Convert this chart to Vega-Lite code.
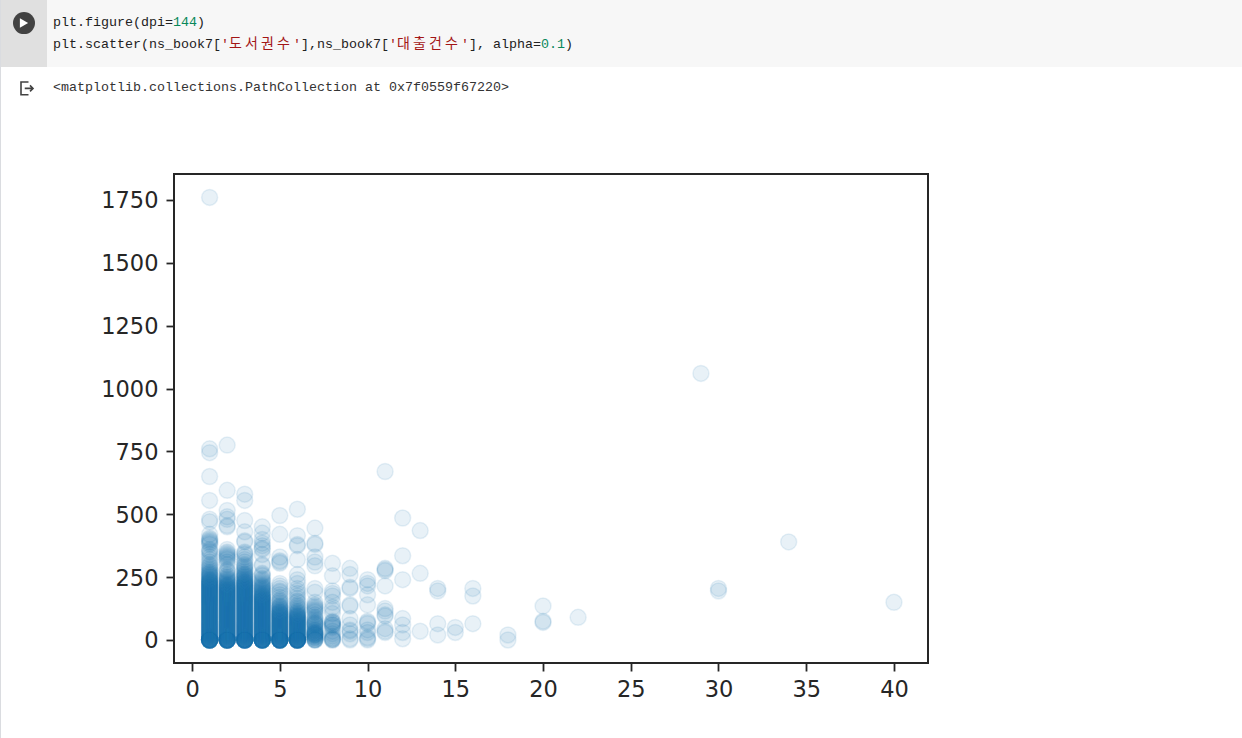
{
"$schema":"https://vega.github.io/schema/vega-lite/v6.json",
"autosize":{"type":"none"},
"padding":{"left":174,"top":174,"right":314,"bottom":75},
"width":754,
"height":489,
"background":"white",
"config":{"view":{"stroke":"#262626","strokeWidth":2},"axis":{"grid":false}},
"datasets":{
"regions":[
{"region":"cell","col":-6.625,"col2":148.6,"line":0,"line2":3.05},
{"region":"gutter","col":-6.625,"col2":-0.75,"line":0,"line2":3.05},
{"region":"edge","col":-6.625,"col2":-6.5,"line":0,"line2":33.6}
],
"tokens":[
{"line":1,"col":0,"kind":"code","token":"plt.figure(dpi="},
{"line":1,"col":15,"kind":"number","token":"144"},
{"line":1,"col":18,"kind":"code","token":")"},
{"line":2,"col":0,"kind":"code","token":"plt.scatter(ns_book7["},
{"line":2,"col":21,"kind":"string","token":"'"},
{"line":2,"col":30,"kind":"string","token":"'"},
{"line":2,"col":31,"kind":"code","token":"],ns_book7["},
{"line":2,"col":42,"kind":"string","token":"'"},
{"line":2,"col":51,"kind":"string","token":"'"},
{"line":2,"col":52,"kind":"code","token":"], alpha="},
{"line":2,"col":61,"kind":"number","token":"0.1"},
{"line":2,"col":64,"kind":"code","token":")"},
{"line":3.95,"col":0,"kind":"output","token":"<matplotlib.collections.PathCollection at 0x7f0559f67220>"}
],
"hangul":[
{"line":2,"col":22,"token":"도"},{"line":2,"col":24,"token":"서"},{"line":2,"col":26,"token":"권"},{"line":2,"col":28,"token":"수"},
{"line":2,"col":43,"token":"대"},{"line":2,"col":45,"token":"출"},{"line":2,"col":47,"token":"건"},{"line":2,"col":49,"token":"수"}
],
"icons":[
{"icon":"run","col":-3.625,"line":1.05},
{"icon":"output","col":-3.25,"line":4}
],
"points":[
{"x":1,"y":0},{"x":1,"y":0},{"x":1,"y":0},{"x":1,"y":0},{"x":1,"y":0},{"x":1,"y":0},{"x":1,"y":0},{"x":1,"y":0},{"x":1,"y":0},{"x":1,"y":0},{"x":1,"y":0},{"x":1,"y":0},{"x":1,"y":0},{"x":1,"y":0},{"x":1,"y":0},{"x":1,"y":0},{"x":1,"y":1},{"x":1,"y":1},{"x":1,"y":1},{"x":1,"y":1},{"x":1,"y":2},{"x":1,"y":4},{"x":1,"y":6},{"x":1,"y":8},{"x":1,"y":10},{"x":1,"y":12},{"x":1,"y":14},{"x":1,"y":16},{"x":1,"y":18},{"x":1,"y":20},{"x":1,"y":22},{"x":1,"y":24},{"x":1,"y":26},{"x":1,"y":28},{"x":1,"y":30},{"x":1,"y":32},{"x":1,"y":34},{"x":1,"y":36},{"x":1,"y":38},{"x":1,"y":40},{"x":1,"y":42},{"x":1,"y":44},{"x":1,"y":46},{"x":1,"y":48},{"x":1,"y":50},{"x":1,"y":52},{"x":1,"y":54},{"x":1,"y":56},{"x":1,"y":58},{"x":1,"y":60},{"x":1,"y":62},{"x":1,"y":64},{"x":1,"y":66},{"x":1,"y":68},{"x":1,"y":70},{"x":1,"y":72},{"x":1,"y":74},{"x":1,"y":76},{"x":1,"y":78},{"x":1,"y":80},{"x":1,"y":82},{"x":1,"y":84},{"x":1,"y":86},{"x":1,"y":88},{"x":1,"y":90},{"x":1,"y":92},{"x":1,"y":94},{"x":1,"y":96},{"x":1,"y":98},{"x":1,"y":100},{"x":1,"y":102},{"x":1,"y":104},{"x":1,"y":106},{"x":1,"y":108},{"x":1,"y":110},{"x":1,"y":112},{"x":1,"y":114},{"x":1,"y":116},{"x":1,"y":118},{"x":1,"y":120},{"x":1,"y":122},{"x":1,"y":124},{"x":1,"y":126},{"x":1,"y":128},{"x":1,"y":130},{"x":1,"y":132},{"x":1,"y":134},{"x":1,"y":136},{"x":1,"y":138},{"x":1,"y":140},{"x":1,"y":142},{"x":1,"y":144},{"x":1,"y":146},{"x":1,"y":148},{"x":1,"y":150},{"x":1,"y":152},{"x":1,"y":154},{"x":1,"y":156},{"x":1,"y":158},{"x":1,"y":160},{"x":1,"y":162},{"x":1,"y":164},{"x":1,"y":166},{"x":1,"y":168},{"x":1,"y":170},{"x":1,"y":172},{"x":1,"y":174},{"x":1,"y":176},{"x":1,"y":178},{"x":1,"y":180},{"x":1,"y":182},{"x":1,"y":184},{"x":1,"y":186},{"x":1,"y":188},{"x":1,"y":190},{"x":1,"y":192},{"x":1,"y":194},{"x":1,"y":196},{"x":1,"y":198},{"x":1,"y":200},{"x":1,"y":202},{"x":1,"y":204},{"x":1,"y":206},{"x":1,"y":208},{"x":1,"y":210},{"x":1,"y":212},{"x":1,"y":214},{"x":1,"y":216},{"x":1,"y":218},{"x":1,"y":220},{"x":1,"y":222},{"x":1,"y":224},{"x":1,"y":226},{"x":1,"y":228},{"x":1,"y":230},{"x":1,"y":232},{"x":1,"y":234},{"x":1,"y":236},{"x":1,"y":238},{"x":1,"y":240},{"x":1,"y":243},{"x":1,"y":246},{"x":1,"y":249},{"x":1,"y":252},{"x":1,"y":255},{"x":1,"y":258},{"x":1,"y":261},{"x":1,"y":264},{"x":1,"y":267},{"x":1,"y":270},{"x":1,"y":275},{"x":1,"y":280},{"x":1,"y":285},{"x":1,"y":290},{"x":1,"y":295},{"x":1,"y":300},{"x":1,"y":310},{"x":1,"y":320},{"x":1,"y":330},{"x":1,"y":340},{"x":1,"y":350},{"x":1,"y":355},{"x":1,"y":360},{"x":1,"y":380},{"x":1,"y":385},{"x":1,"y":390},{"x":1,"y":395},{"x":1,"y":400},{"x":1,"y":405},{"x":1,"y":420},{"x":1,"y":470},{"x":1,"y":480},{"x":1,"y":555},{"x":1,"y":650},{"x":1,"y":745},{"x":1,"y":760},{"x":1,"y":1760},
{"x":2,"y":0},{"x":2,"y":0},{"x":2,"y":0},{"x":2,"y":0},{"x":2,"y":0},{"x":2,"y":0},{"x":2,"y":0},{"x":2,"y":0},{"x":2,"y":0},{"x":2,"y":0},{"x":2,"y":0},{"x":2,"y":0},{"x":2,"y":0},{"x":2,"y":0},{"x":2,"y":0},{"x":2,"y":0},{"x":2,"y":1},{"x":2,"y":1},{"x":2,"y":1},{"x":2,"y":1},{"x":2,"y":2},{"x":2,"y":4},{"x":2,"y":6},{"x":2,"y":8},{"x":2,"y":10},{"x":2,"y":12},{"x":2,"y":14},{"x":2,"y":16},{"x":2,"y":18},{"x":2,"y":20},{"x":2,"y":22},{"x":2,"y":24},{"x":2,"y":26},{"x":2,"y":28},{"x":2,"y":30},{"x":2,"y":32},{"x":2,"y":34},{"x":2,"y":36},{"x":2,"y":38},{"x":2,"y":40},{"x":2,"y":42},{"x":2,"y":44},{"x":2,"y":46},{"x":2,"y":48},{"x":2,"y":50},{"x":2,"y":52},{"x":2,"y":54},{"x":2,"y":56},{"x":2,"y":58},{"x":2,"y":60},{"x":2,"y":62},{"x":2,"y":64},{"x":2,"y":66},{"x":2,"y":68},{"x":2,"y":70},{"x":2,"y":72},{"x":2,"y":74},{"x":2,"y":76},{"x":2,"y":78},{"x":2,"y":80},{"x":2,"y":82},{"x":2,"y":84},{"x":2,"y":86},{"x":2,"y":88},{"x":2,"y":90},{"x":2,"y":92},{"x":2,"y":94},{"x":2,"y":96},{"x":2,"y":98},{"x":2,"y":100},{"x":2,"y":102},{"x":2,"y":104},{"x":2,"y":106},{"x":2,"y":108},{"x":2,"y":110},{"x":2,"y":112},{"x":2,"y":114},{"x":2,"y":116},{"x":2,"y":118},{"x":2,"y":120},{"x":2,"y":122},{"x":2,"y":124},{"x":2,"y":126},{"x":2,"y":128},{"x":2,"y":130},{"x":2,"y":132},{"x":2,"y":134},{"x":2,"y":136},{"x":2,"y":138},{"x":2,"y":140},{"x":2,"y":142},{"x":2,"y":144},{"x":2,"y":146},{"x":2,"y":148},{"x":2,"y":150},{"x":2,"y":152},{"x":2,"y":154},{"x":2,"y":156},{"x":2,"y":158},{"x":2,"y":160},{"x":2,"y":162},{"x":2,"y":164},{"x":2,"y":166},{"x":2,"y":168},{"x":2,"y":170},{"x":2,"y":172},{"x":2,"y":174},{"x":2,"y":176},{"x":2,"y":178},{"x":2,"y":180},{"x":2,"y":182},{"x":2,"y":184},{"x":2,"y":186},{"x":2,"y":188},{"x":2,"y":190},{"x":2,"y":192},{"x":2,"y":194},{"x":2,"y":196},{"x":2,"y":198},{"x":2,"y":200},{"x":2,"y":202},{"x":2,"y":204},{"x":2,"y":206},{"x":2,"y":208},{"x":2,"y":210},{"x":2,"y":212},{"x":2,"y":214},{"x":2,"y":216},{"x":2,"y":218},{"x":2,"y":220},{"x":2,"y":223},{"x":2,"y":226},{"x":2,"y":229},{"x":2,"y":232},{"x":2,"y":235},{"x":2,"y":238},{"x":2,"y":241},{"x":2,"y":244},{"x":2,"y":247},{"x":2,"y":250},{"x":2,"y":255},{"x":2,"y":260},{"x":2,"y":270},{"x":2,"y":275},{"x":2,"y":280},{"x":2,"y":300},{"x":2,"y":310},{"x":2,"y":320},{"x":2,"y":325},{"x":2,"y":330},{"x":2,"y":335},{"x":2,"y":340},{"x":2,"y":345},{"x":2,"y":350},{"x":2,"y":360},{"x":2,"y":450},{"x":2,"y":455},{"x":2,"y":480},{"x":2,"y":490},{"x":2,"y":515},{"x":2,"y":595},{"x":2,"y":775},
{"x":3,"y":0},{"x":3,"y":0},{"x":3,"y":0},{"x":3,"y":0},{"x":3,"y":0},{"x":3,"y":0},{"x":3,"y":0},{"x":3,"y":0},{"x":3,"y":0},{"x":3,"y":0},{"x":3,"y":0},{"x":3,"y":0},{"x":3,"y":0},{"x":3,"y":0},{"x":3,"y":0},{"x":3,"y":0},{"x":3,"y":1},{"x":3,"y":1},{"x":3,"y":1},{"x":3,"y":1},{"x":3,"y":2},{"x":3,"y":4},{"x":3,"y":6},{"x":3,"y":8},{"x":3,"y":10},{"x":3,"y":12},{"x":3,"y":14},{"x":3,"y":16},{"x":3,"y":18},{"x":3,"y":20},{"x":3,"y":22},{"x":3,"y":24},{"x":3,"y":26},{"x":3,"y":28},{"x":3,"y":30},{"x":3,"y":32},{"x":3,"y":34},{"x":3,"y":36},{"x":3,"y":38},{"x":3,"y":40},{"x":3,"y":42},{"x":3,"y":44},{"x":3,"y":46},{"x":3,"y":48},{"x":3,"y":50},{"x":3,"y":52},{"x":3,"y":54},{"x":3,"y":56},{"x":3,"y":58},{"x":3,"y":60},{"x":3,"y":62},{"x":3,"y":64},{"x":3,"y":66},{"x":3,"y":68},{"x":3,"y":70},{"x":3,"y":72},{"x":3,"y":74},{"x":3,"y":76},{"x":3,"y":78},{"x":3,"y":80},{"x":3,"y":82},{"x":3,"y":84},{"x":3,"y":86},{"x":3,"y":88},{"x":3,"y":90},{"x":3,"y":92},{"x":3,"y":94},{"x":3,"y":96},{"x":3,"y":98},{"x":3,"y":100},{"x":3,"y":102},{"x":3,"y":104},{"x":3,"y":106},{"x":3,"y":108},{"x":3,"y":110},{"x":3,"y":112},{"x":3,"y":114},{"x":3,"y":116},{"x":3,"y":118},{"x":3,"y":120},{"x":3,"y":122},{"x":3,"y":124},{"x":3,"y":126},{"x":3,"y":128},{"x":3,"y":130},{"x":3,"y":132},{"x":3,"y":134},{"x":3,"y":136},{"x":3,"y":138},{"x":3,"y":140},{"x":3,"y":142},{"x":3,"y":144},{"x":3,"y":146},{"x":3,"y":148},{"x":3,"y":150},{"x":3,"y":152},{"x":3,"y":154},{"x":3,"y":156},{"x":3,"y":158},{"x":3,"y":160},{"x":3,"y":162},{"x":3,"y":164},{"x":3,"y":166},{"x":3,"y":168},{"x":3,"y":170},{"x":3,"y":172},{"x":3,"y":174},{"x":3,"y":176},{"x":3,"y":178},{"x":3,"y":180},{"x":3,"y":182},{"x":3,"y":184},{"x":3,"y":186},{"x":3,"y":188},{"x":3,"y":190},{"x":3,"y":192},{"x":3,"y":194},{"x":3,"y":196},{"x":3,"y":198},{"x":3,"y":200},{"x":3,"y":202},{"x":3,"y":204},{"x":3,"y":206},{"x":3,"y":208},{"x":3,"y":210},{"x":3,"y":212},{"x":3,"y":214},{"x":3,"y":216},{"x":3,"y":218},{"x":3,"y":220},{"x":3,"y":222},{"x":3,"y":224},{"x":3,"y":226},{"x":3,"y":228},{"x":3,"y":230},{"x":3,"y":232},{"x":3,"y":234},{"x":3,"y":237},{"x":3,"y":240},{"x":3,"y":243},{"x":3,"y":246},{"x":3,"y":249},{"x":3,"y":252},{"x":3,"y":255},{"x":3,"y":258},{"x":3,"y":261},{"x":3,"y":264},{"x":3,"y":270},{"x":3,"y":275},{"x":3,"y":280},{"x":3,"y":285},{"x":3,"y":290},{"x":3,"y":295},{"x":3,"y":300},{"x":3,"y":310},{"x":3,"y":320},{"x":3,"y":330},{"x":3,"y":340},{"x":3,"y":345},{"x":3,"y":350},{"x":3,"y":390},{"x":3,"y":395},{"x":3,"y":430},{"x":3,"y":475},{"x":3,"y":555},{"x":3,"y":580},
{"x":4,"y":0},{"x":4,"y":0},{"x":4,"y":0},{"x":4,"y":0},{"x":4,"y":0},{"x":4,"y":0},{"x":4,"y":0},{"x":4,"y":0},{"x":4,"y":0},{"x":4,"y":0},{"x":4,"y":0},{"x":4,"y":0},{"x":4,"y":0},{"x":4,"y":0},{"x":4,"y":0},{"x":4,"y":0},{"x":4,"y":1},{"x":4,"y":1},{"x":4,"y":1},{"x":4,"y":1},{"x":4,"y":2},{"x":4,"y":4},{"x":4,"y":6},{"x":4,"y":8},{"x":4,"y":10},{"x":4,"y":12},{"x":4,"y":14},{"x":4,"y":16},{"x":4,"y":18},{"x":4,"y":20},{"x":4,"y":22},{"x":4,"y":24},{"x":4,"y":26},{"x":4,"y":28},{"x":4,"y":30},{"x":4,"y":32},{"x":4,"y":34},{"x":4,"y":36},{"x":4,"y":38},{"x":4,"y":40},{"x":4,"y":42},{"x":4,"y":44},{"x":4,"y":46},{"x":4,"y":48},{"x":4,"y":50},{"x":4,"y":52},{"x":4,"y":54},{"x":4,"y":56},{"x":4,"y":58},{"x":4,"y":60},{"x":4,"y":62},{"x":4,"y":64},{"x":4,"y":66},{"x":4,"y":68},{"x":4,"y":70},{"x":4,"y":72},{"x":4,"y":74},{"x":4,"y":76},{"x":4,"y":78},{"x":4,"y":80},{"x":4,"y":82},{"x":4,"y":84},{"x":4,"y":86},{"x":4,"y":88},{"x":4,"y":90},{"x":4,"y":92},{"x":4,"y":94},{"x":4,"y":96},{"x":4,"y":98},{"x":4,"y":100},{"x":4,"y":102},{"x":4,"y":104},{"x":4,"y":106},{"x":4,"y":108},{"x":4,"y":110},{"x":4,"y":112},{"x":4,"y":114},{"x":4,"y":116},{"x":4,"y":118},{"x":4,"y":120},{"x":4,"y":122},{"x":4,"y":124},{"x":4,"y":126},{"x":4,"y":128},{"x":4,"y":130},{"x":4,"y":132},{"x":4,"y":134},{"x":4,"y":136},{"x":4,"y":138},{"x":4,"y":140},{"x":4,"y":142},{"x":4,"y":144},{"x":4,"y":146},{"x":4,"y":148},{"x":4,"y":150},{"x":4,"y":152},{"x":4,"y":154},{"x":4,"y":156},{"x":4,"y":158},{"x":4,"y":160},{"x":4,"y":162},{"x":4,"y":164},{"x":4,"y":166},{"x":4,"y":168},{"x":4,"y":170},{"x":4,"y":172},{"x":4,"y":174},{"x":4,"y":176},{"x":4,"y":178},{"x":4,"y":180},{"x":4,"y":183},{"x":4,"y":186},{"x":4,"y":189},{"x":4,"y":192},{"x":4,"y":195},{"x":4,"y":198},{"x":4,"y":201},{"x":4,"y":204},{"x":4,"y":207},{"x":4,"y":210},{"x":4,"y":213},{"x":4,"y":216},{"x":4,"y":220},{"x":4,"y":225},{"x":4,"y":230},{"x":4,"y":235},{"x":4,"y":240},{"x":4,"y":245},{"x":4,"y":255},{"x":4,"y":260},{"x":4,"y":265},{"x":4,"y":295},{"x":4,"y":300},{"x":4,"y":340},{"x":4,"y":360},{"x":4,"y":365},{"x":4,"y":375},{"x":4,"y":385},{"x":4,"y":400},{"x":4,"y":425},{"x":4,"y":450},
{"x":5,"y":0},{"x":5,"y":0},{"x":5,"y":0},{"x":5,"y":0},{"x":5,"y":0},{"x":5,"y":0},{"x":5,"y":0},{"x":5,"y":0},{"x":5,"y":0},{"x":5,"y":0},{"x":5,"y":0},{"x":5,"y":0},{"x":5,"y":0},{"x":5,"y":0},{"x":5,"y":0},{"x":5,"y":0},{"x":5,"y":1},{"x":5,"y":1},{"x":5,"y":1},{"x":5,"y":1},{"x":5,"y":2},{"x":5,"y":4},{"x":5,"y":6},{"x":5,"y":8},{"x":5,"y":10},{"x":5,"y":12},{"x":5,"y":14},{"x":5,"y":16},{"x":5,"y":18},{"x":5,"y":20},{"x":5,"y":22},{"x":5,"y":24},{"x":5,"y":26},{"x":5,"y":28},{"x":5,"y":30},{"x":5,"y":32},{"x":5,"y":34},{"x":5,"y":36},{"x":5,"y":38},{"x":5,"y":40},{"x":5,"y":42},{"x":5,"y":44},{"x":5,"y":46},{"x":5,"y":48},{"x":5,"y":50},{"x":5,"y":52},{"x":5,"y":54},{"x":5,"y":56},{"x":5,"y":58},{"x":5,"y":60},{"x":5,"y":62},{"x":5,"y":64},{"x":5,"y":66},{"x":5,"y":68},{"x":5,"y":70},{"x":5,"y":72},{"x":5,"y":74},{"x":5,"y":76},{"x":5,"y":78},{"x":5,"y":80},{"x":5,"y":82},{"x":5,"y":84},{"x":5,"y":86},{"x":5,"y":88},{"x":5,"y":90},{"x":5,"y":92},{"x":5,"y":94},{"x":5,"y":96},{"x":5,"y":98},{"x":5,"y":100},{"x":5,"y":102},{"x":5,"y":104},{"x":5,"y":106},{"x":5,"y":108},{"x":5,"y":110},{"x":5,"y":112},{"x":5,"y":114},{"x":5,"y":117},{"x":5,"y":120},{"x":5,"y":123},{"x":5,"y":126},{"x":5,"y":129},{"x":5,"y":132},{"x":5,"y":135},{"x":5,"y":138},{"x":5,"y":145},{"x":5,"y":150},{"x":5,"y":155},{"x":5,"y":160},{"x":5,"y":170},{"x":5,"y":180},{"x":5,"y":190},{"x":5,"y":195},{"x":5,"y":205},{"x":5,"y":215},{"x":5,"y":225},{"x":5,"y":305},{"x":5,"y":310},{"x":5,"y":315},{"x":5,"y":330},{"x":5,"y":420},{"x":5,"y":495},
{"x":6,"y":0},{"x":6,"y":0},{"x":6,"y":0},{"x":6,"y":0},{"x":6,"y":0},{"x":6,"y":0},{"x":6,"y":0},{"x":6,"y":0},{"x":6,"y":0},{"x":6,"y":0},{"x":6,"y":0},{"x":6,"y":0},{"x":6,"y":0},{"x":6,"y":0},{"x":6,"y":0},{"x":6,"y":0},{"x":6,"y":1},{"x":6,"y":1},{"x":6,"y":1},{"x":6,"y":1},{"x":6,"y":2},{"x":6,"y":4},{"x":6,"y":6},{"x":6,"y":8},{"x":6,"y":10},{"x":6,"y":12},{"x":6,"y":14},{"x":6,"y":16},{"x":6,"y":18},{"x":6,"y":20},{"x":6,"y":22},{"x":6,"y":24},{"x":6,"y":26},{"x":6,"y":28},{"x":6,"y":30},{"x":6,"y":32},{"x":6,"y":34},{"x":6,"y":36},{"x":6,"y":38},{"x":6,"y":40},{"x":6,"y":42},{"x":6,"y":44},{"x":6,"y":46},{"x":6,"y":48},{"x":6,"y":50},{"x":6,"y":52},{"x":6,"y":54},{"x":6,"y":56},{"x":6,"y":58},{"x":6,"y":60},{"x":6,"y":62},{"x":6,"y":64},{"x":6,"y":66},{"x":6,"y":68},{"x":6,"y":70},{"x":6,"y":72},{"x":6,"y":74},{"x":6,"y":76},{"x":6,"y":78},{"x":6,"y":80},{"x":6,"y":82},{"x":6,"y":84},{"x":6,"y":86},{"x":6,"y":88},{"x":6,"y":90},{"x":6,"y":92},{"x":6,"y":94},{"x":6,"y":96},{"x":6,"y":98},{"x":6,"y":100},{"x":6,"y":103},{"x":6,"y":106},{"x":6,"y":109},{"x":6,"y":112},{"x":6,"y":115},{"x":6,"y":120},{"x":6,"y":125},{"x":6,"y":130},{"x":6,"y":135},{"x":6,"y":140},{"x":6,"y":150},{"x":6,"y":155},{"x":6,"y":165},{"x":6,"y":175},{"x":6,"y":185},{"x":6,"y":195},{"x":6,"y":205},{"x":6,"y":225},{"x":6,"y":240},{"x":6,"y":260},{"x":6,"y":320},{"x":6,"y":375},{"x":6,"y":380},{"x":6,"y":415},{"x":6,"y":520},
{"x":7,"y":0},{"x":7,"y":0},{"x":7,"y":0},{"x":7,"y":2},{"x":7,"y":5},{"x":7,"y":8},{"x":7,"y":10},{"x":7,"y":12},{"x":7,"y":15},{"x":7,"y":18},{"x":7,"y":20},{"x":7,"y":20},{"x":7,"y":22},{"x":7,"y":25},{"x":7,"y":25},{"x":7,"y":28},{"x":7,"y":30},{"x":7,"y":30},{"x":7,"y":35},{"x":7,"y":38},{"x":7,"y":40},{"x":7,"y":45},{"x":7,"y":50},{"x":7,"y":55},{"x":7,"y":60},{"x":7,"y":62},{"x":7,"y":65},{"x":7,"y":68},{"x":7,"y":70},{"x":7,"y":75},{"x":7,"y":80},{"x":7,"y":85},{"x":7,"y":90},{"x":7,"y":100},{"x":7,"y":110},{"x":7,"y":115},{"x":7,"y":120},{"x":7,"y":125},{"x":7,"y":130},{"x":7,"y":135},{"x":7,"y":140},{"x":7,"y":150},{"x":7,"y":190},{"x":7,"y":205},{"x":7,"y":295},{"x":7,"y":310},{"x":7,"y":330},{"x":7,"y":380},{"x":7,"y":385},{"x":7,"y":445},
{"x":8,"y":0},{"x":8,"y":0},{"x":8,"y":3},{"x":8,"y":5},{"x":8,"y":8},{"x":8,"y":15},{"x":8,"y":25},{"x":8,"y":35},{"x":8,"y":50},{"x":8,"y":55},{"x":8,"y":60},{"x":8,"y":60},{"x":8,"y":65},{"x":8,"y":70},{"x":8,"y":70},{"x":8,"y":75},{"x":8,"y":105},{"x":8,"y":120},{"x":8,"y":130},{"x":8,"y":150},{"x":8,"y":175},{"x":8,"y":185},{"x":8,"y":195},{"x":8,"y":255},{"x":8,"y":305},
{"x":9,"y":0},{"x":9,"y":5},{"x":9,"y":25},{"x":9,"y":35},{"x":9,"y":40},{"x":9,"y":60},{"x":9,"y":85},{"x":9,"y":135},{"x":9,"y":140},{"x":9,"y":205},{"x":9,"y":210},{"x":9,"y":260},{"x":9,"y":285},
{"x":10,"y":0},{"x":10,"y":5},{"x":10,"y":10},{"x":10,"y":30},{"x":10,"y":40},{"x":10,"y":65},{"x":10,"y":70},{"x":10,"y":75},{"x":10,"y":140},{"x":10,"y":180},{"x":10,"y":215},{"x":10,"y":225},{"x":10,"y":240},
{"x":11,"y":30},{"x":11,"y":35},{"x":11,"y":45},{"x":11,"y":95},{"x":11,"y":100},{"x":11,"y":115},{"x":11,"y":125},{"x":11,"y":215},{"x":11,"y":275},{"x":11,"y":280},{"x":11,"y":285},{"x":11,"y":670},
{"x":12,"y":5},{"x":12,"y":30},{"x":12,"y":60},{"x":12,"y":85},{"x":12,"y":240},{"x":12,"y":335},{"x":12,"y":485},
{"x":13,"y":35},{"x":13,"y":265},{"x":13,"y":435},
{"x":14,"y":20},{"x":14,"y":65},{"x":14,"y":195},{"x":14,"y":205},
{"x":15,"y":30},{"x":15,"y":50},
{"x":16,"y":65},{"x":16,"y":175},{"x":16,"y":205},
{"x":18,"y":0},{"x":18,"y":20},
{"x":20,"y":70},{"x":20,"y":75},{"x":20,"y":135},
{"x":22,"y":90},
{"x":29,"y":1060},
{"x":30,"y":195},{"x":30,"y":205},
{"x":34,"y":390},
{"x":40,"y":150}
]
},
"layer":[
{
"encoding":{
"x":{"field":"col","type":"quantitative","axis":null,"scale":{"domain":[0,100],"range":[-121,679],"nice":false,"zero":false}},
"y":{"field":"line","type":"quantitative","axis":null,"scale":{"domain":[0,33.545],"range":[-174,564],"nice":false,"zero":false}}
},
"layer":[
{
"data":{"name":"regions"},
"mark":{"type":"rect"},
"encoding":{
"x2":{"field":"col2"},
"y2":{"field":"line2"},
"color":{"field":"region","type":"nominal","legend":null,"scale":{"domain":["cell","gutter","edge","code","string","number","output"],"range":["#f7f7f7","#e0e0e0","#dadce0","#212121","#a31515","#09885a","#333333"]}}
}
},
{
"data":{"name":"tokens"},
"mark":{"type":"text","align":"left","baseline":"middle","font":"Liberation Mono","fontSize":13.33},
"encoding":{
"text":{"field":"token"},
"color":{"field":"kind","type":"nominal","legend":null}
}
},
{
"data":{"name":"hangul"},
"mark":{"type":"text","align":"left","baseline":"middle","font":"Noto Sans CJK KR","fontSize":14,"color":"#a31515"},
"encoding":{"text":{"field":"token"}}
},
{
"data":{"name":"icons"},
"transform":[{"filter":"datum.icon == 'run'"}],
"mark":{"type":"point","shape":"circle","filled":true,"size":484,"color":"#424242","opacity":1},
"encoding":{}
},
{
"data":{"name":"icons"},
"transform":[{"filter":"datum.icon == 'run'"}],
"mark":{"type":"point","shape":"triangle-right","filled":true,"size":90,"color":"#ffffff","opacity":1},
"encoding":{}
},
{
"data":{"name":"icons"},
"transform":[{"filter":"datum.icon == 'output'"}],
"mark":{"type":"point","shape":"M0.2,-0.8H-0.8V0.9H0.2M-0.3,0.05H0.8M0.4,-0.35L0.8,0.05L0.4,0.45","filled":false,"size":225,"color":"#424242","strokeWidth":1.6,"opacity":1},
"encoding":{}
}
]
},
{
"data":{"name":"points"},
"mark":{"type":"point","shape":"circle","filled":true,"size":256,"color":"#1f77b4","fillOpacity":0.1,"strokeOpacity":0.1,"stroke":"#1f77b4","strokeWidth":1.5},
"encoding":{
"x":{"field":"x","type":"quantitative","title":null,"scale":{"domain":[-1.03,41.94],"nice":false,"zero":false},
"axis":{"values":[0,5,10,15,20,25,30,35,40],"domain":false,"grid":false,"tickSize":8,"tickWidth":1.8,"tickColor":"#262626","labelFont":"DejaVu Sans","labelFontSize":22.5,"labelColor":"#262626","labelPadding":7,"labelFlush":false}},
"y":{"field":"y","type":"quantitative","title":null,"scale":{"domain":[-91.5,1853],"nice":false,"zero":false},
"axis":{"values":[0,250,500,750,1000,1250,1500,1750],"format":"d","domain":false,"grid":false,"tickSize":8,"tickWidth":1.8,"tickColor":"#262626","labelFont":"DejaVu Sans","labelFontSize":22.5,"labelColor":"#262626","labelPadding":8,"labelOffset":1}}
}
}
],
"resolve":{"scale":{"x":"independent","y":"independent","color":"independent"}}
}
